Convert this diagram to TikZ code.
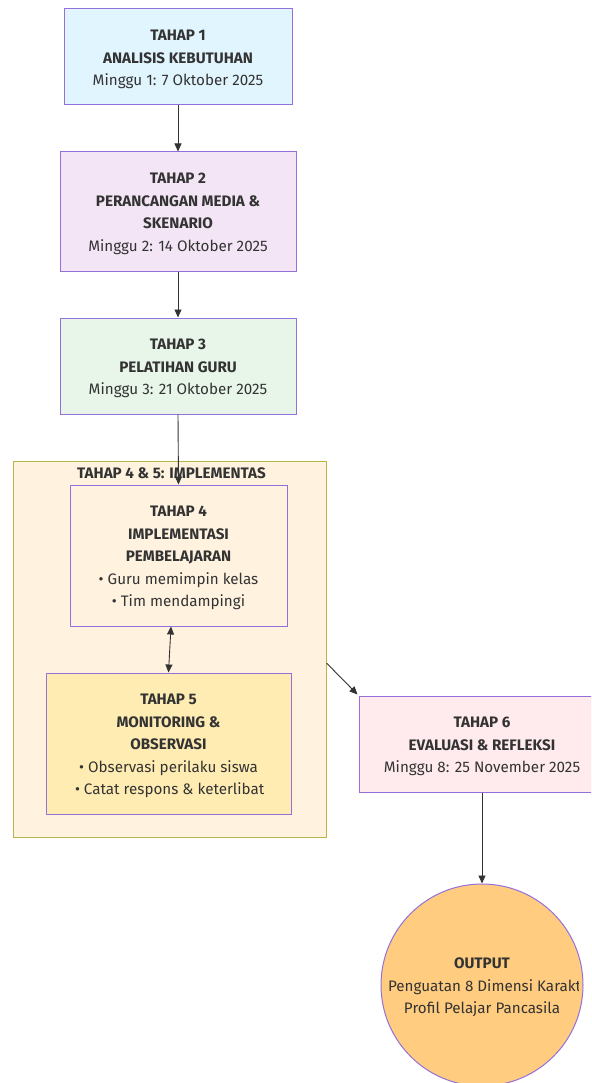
\documentclass[tikz,border=0pt]{standalone}
\usepackage{fontspec}
\setmainfont{Fira Sans}
\usetikzlibrary{arrows.meta,calc}
\definecolor{txt}{HTML}{333333}
\definecolor{bord}{HTML}{9370DB}
\definecolor{clbord}{HTML}{B5B54A}
\definecolor{fa}{HTML}{E1F5FE}
\definecolor{fb}{HTML}{F3E5F5}
\definecolor{fc}{HTML}{E8F5E9}
\definecolor{fd}{HTML}{FFF3E0}
\definecolor{fe}{HTML}{FFECB3}
\definecolor{ff}{HTML}{FFEBEE}
\definecolor{fg}{HTML}{FFCC80}
\tikzset{
  stagebox/.style={draw=bord, line width=1pt, rectangle, inner sep=0pt, text=txt, align=center, font=\fontsize{15.2}{22.6}\selectfont},
  lbl/.style={text=txt, align=center, inner sep=0pt, font=\fontsize{15.2}{22.6}\selectfont},
  conn/.style={draw=txt, line width=0.9pt, -{Triangle[length=8pt,width=7pt]}},
  biconn/.style={draw=txt, line width=0.9pt, {Triangle[length=8pt,width=7pt]}-{Triangle[length=8pt,width=7pt]}}
}
\begin{document}
\begin{tikzpicture}[x=1pt,y=-1pt]
\useasboundingbox (0,0) rectangle (591,1083);
\clip (0,0) rectangle (591,1083);
% stage 1-3
\node[stagebox, fill=fa, minimum width=228pt, minimum height=96pt] (b1) at (178,57) {};
\node[lbl] (b1t) at ([yshift=-2.5pt]b1.center) {\textbf{TAHAP 1}\\\textbf{ANALISIS KEBUTUHAN}\\Minggu 1: 7 Oktober 2025};
\node[stagebox, fill=fb, minimum width=236pt, minimum height=119pt] (b2) at (178,211.5) {};
\node[lbl] (b2t) at ([yshift=-2.5pt]b2.center) {\textbf{TAHAP 2}\\\textbf{PERANCANGAN MEDIA \&}\\\textbf{SKENARIO}\\Minggu 2: 14 Oktober 2025};
\node[stagebox, fill=fc, minimum width=236pt, minimum height=96pt] (b3) at (178,366) {};
\node[lbl] (b3t) at ([yshift=-2.5pt]b3.center) {\textbf{TAHAP 3}\\\textbf{PELATIHAN GURU}\\Minggu 3: 21 Oktober 2025};
% cluster
\node[draw=clbord, fill=fd, line width=1pt, rectangle, inner sep=0pt, minimum width=313pt, minimum height=376pt] (cl) at (169.5,649) {};
\begin{scope}
\clip (13,461) rectangle (265,490);
\node[lbl, anchor=west] (cltitle) at (77,473) {\textbf{TAHAP 4 \& 5: IMPLEMENTASI}};
\end{scope}
\node[stagebox, fill=fd, minimum width=217pt, minimum height=141pt] (b4) at (178.5,555.5) {};
\node[lbl] (b4t) at ([yshift=-2.5pt]b4.center) {\textbf{TAHAP 4}\\\textbf{IMPLEMENTASI}\\\textbf{PEMBELAJARAN}\\• Guru memimpin kelas\\• Tim mendampingi};
\node[stagebox, fill=fe, minimum width=245pt, minimum height=141pt] (b5) at (168.5,743.5) {};
\begin{scope}
\clip (46,673) rectangle (263,814);
\node[lbl] (b5t) at ([yshift=-2.5pt]b5.center) {\textbf{TAHAP 5}\\\textbf{MONITORING \&}\\\textbf{OBSERVASI}\\• Observasi perilaku siswa\\\makebox[187pt][l]{• Catat respons \& keterlibatan}};
\end{scope}
% stage 6
\node[stagebox, fill=ff, minimum width=246pt, minimum height=96pt] (b6) at (482,744) {};
\node[lbl] (b6t) at ([yshift=-2.5pt]b6.center) {\textbf{TAHAP 6}\\\textbf{EVALUASI \& REFLEKSI}\\Minggu 8: 25 November 2025};
% output
\node[draw=bord, fill=fg, line width=1pt, circle, inner sep=0pt, minimum size=202pt] (out) at (482,985) {};
\begin{scope}
\clip (381,884) rectangle (578,1083);
\node[lbl] (outt) at ([yshift=-2.5pt]out.center) {\textbf{OUTPUT}\\\makebox[188pt][l]{Penguatan 8 Dimensi Karakter}\\Profil Pelajar Pancasila};
\end{scope}
% connectors
\draw[conn] (b1.south) -- (b2.north);
\draw[conn] (b2.south) -- (b3.north);
\draw[conn] (b3.south) -- (b4.north);
\draw[biconn] ([xshift=-7.5pt]b4.south) -- (b5.north);
\draw[conn] ([yshift=-14pt]cl.east) -- ([xshift=-1pt,yshift=1pt]b6.north west);
\draw[conn] (b6.south) -- (out.north);
\end{tikzpicture}
\end{document}
